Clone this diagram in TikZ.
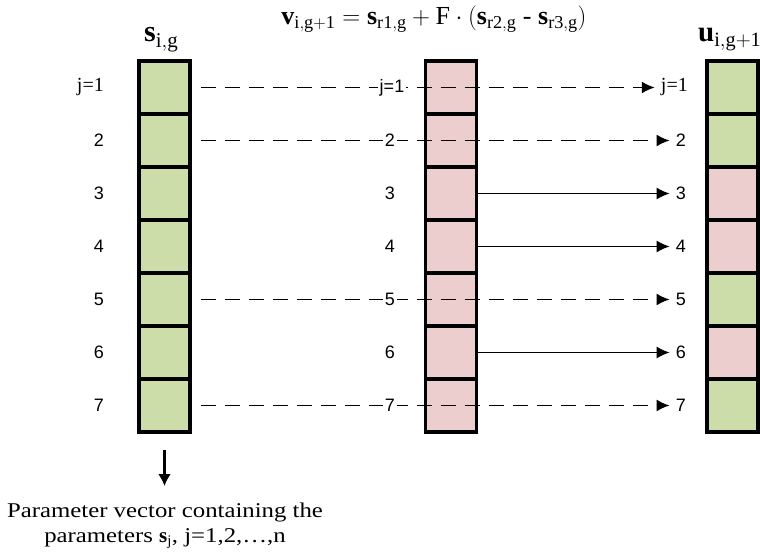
\documentclass[tikz,border=0pt]{standalone}
\usepackage{amsmath}
\usepackage{fontspec}
\setmainfont{Liberation Serif}
\newfontfamily\numfont{Liberation Sans}
\newfontfamily\descfont{Liberation Serif}[FakeStretch=1.18]
\usetikzlibrary{arrows.meta,positioning}

\definecolor{cellgreen}{RGB}{205,221,170}
\definecolor{cellpink}{RGB}{236,206,206}

\begin{document}
\begin{tikzpicture}[x=1pt,y=-1pt,
  cell/.style={draw=black,line width=3.5pt,minimum width=51pt,minimum height=53pt,inner sep=0pt},
  numlbl/.style={font=\numfont\fontsize{18}{21}\selectfont,inner sep=0pt},
  jlbl/.style={font=\fontsize{20}{24}\selectfont,inner sep=0pt},
  copyline/.style={dash pattern=on 15pt off 9pt,line width=1.7pt,-{Latex[length=13pt,width=12pt]}},
  mutline/.style={line width=1.3pt,-{Latex[length=13pt,width=12pt]}}]
\useasboundingbox (0,0) rectangle (760,556);
% the three vectors
\foreach \k/\c in {1/cellgreen,2/cellgreen,3/cellpink,4/cellpink,5/cellgreen,6/cellpink,7/cellgreen} {
  \node[cell,fill=cellgreen] (s\k) at (164.5,{34.5+53*\k}) {};
  \node[cell,fill=cellpink] (v\k) at (451,{34.5+53*\k}) {};
  \node[cell,fill=\c] (u\k) at (732.5,{34.5+53*\k}) {};
}
% headers
\node[anchor=base west,inner sep=0pt,font=\fontsize{30}{34}\selectfont] (shead) at (144,42) {$\mathbf{s}_{\mathrm{i,g}}$};
\node[anchor=base,inner sep=0pt,font=\fontsize{26}{30}\selectfont] (vhead) at (434,25) {$\mathbf{v}_{\mathrm{i,g+1}} = \mathbf{s}_{\mathrm{r1,g}} + \mathrm{F}\cdot(\mathbf{s}_{\mathrm{r2,g}}\ \text{-}\ \mathbf{s}_{\mathrm{r3,g}})$};
\node[anchor=base west,inner sep=0pt,font=\fontsize{29}{33}\selectfont] (uhead) at (698,42) {$\mathbf{u}_{\mathrm{i,g+1}}$};
% row indices
\node[jlbl,anchor=east] (sl1) at (104,87.5) {j=1};
\node[jlbl,anchor=east] (ul1) at (688,87.5) {j=1};
\foreach \k in {2,...,7} {
  \node[numlbl,anchor=east] (sl\k) at (104,{34.5+53*\k}) {\k};
  \node[numlbl,anchor=east] (ul\k) at (686,{34.5+53*\k}) {\k};
}
% copied parameters
\foreach \k in {1,2,5,7}
  \draw[copyline,shorten <=9pt,shorten >=6pt] (s\k.east) -- (ul\k.west);
% mutated parameters
\foreach \k in {3,4,6}
  \draw[mutline,shorten >=6pt] (v\k.east) -- (ul\k.west);
% middle indices over the lines
\node[numlbl,fill=white,inner sep=2pt] (vl1) at (392,87.5) {j=1};
\foreach \k in {2,...,7}
  \node[numlbl,fill=white,inner sep=2pt] (vl\k) at (390,{34.5+53*\k}) {\k};
% description
\node[anchor=north,align=center,font=\descfont\fontsize{21}{25}\selectfont] (desc) at (165,499) {Parameter vector containing the\\parameters $\mathbf{s}_{\mathrm{j}}$, j=1,2,…,n};
\draw[line width=2.5pt,-{Latex[length=12pt,width=13pt]},shorten <=16pt,shorten >=13pt] (s7.south) -- (s7.south |- desc.north);
\end{tikzpicture}
\end{document}
